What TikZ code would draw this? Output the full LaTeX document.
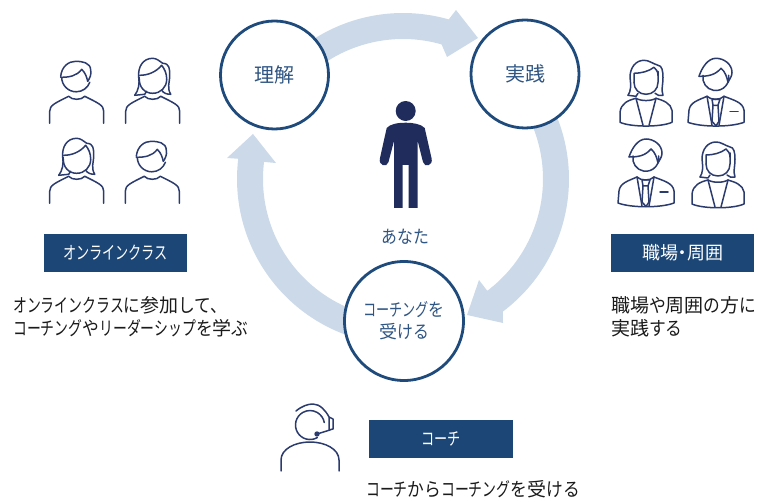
\documentclass[tikz,border=0pt]{standalone}
\usepackage{fontspec}
\setmainfont{Noto Sans CJK JP}
\newfontfamily\narrowkana[FakeStretch=0.73]{Noto Sans CJK JP}
\newfontfamily\narrowhira[FakeStretch=0.88]{Noto Sans CJK JP}
\newcommand{\K}[1]{{\narrowkana #1}}
\newcommand{\Hr}[1]{{\narrowhira #1}}
\definecolor{boxblue}{HTML}{1C4676}
\definecolor{ringblue}{HTML}{1F4A7C}
\definecolor{bandblue}{HTML}{CBD9E9}
\definecolor{iconblue}{HTML}{2B3B6E}
\definecolor{navy}{HTML}{1F2C5C}
\definecolor{labelblue}{HTML}{2F5583}
\definecolor{bodytext}{HTML}{1A1A1A}
\newcommand{\bandarrow}[5]{% start angle, end angle, head points
  \fill[bandblue]
    plot[domain=#1:#2,samples=50] ({403+166*cos(\x)},{-179+166*sin(\x)})
    -- (#3) -- (#4) -- (#5)
    -- plot[domain=#2:#1,samples=50] ({403+140*cos(\x)},{-179+140*sin(\x)}) -- cycle;}
\tikzset{
  x=1pt,y=1pt,
  iconline/.style={draw=iconblue,line width=1.5pt,line join=round,line cap=round,fill=none},
  stepcircle/.style={circle,draw=ringblue,line width=2.8pt,fill=white,text=labelblue,align=center,inner sep=0pt},
  labelbox/.style={rectangle,fill=boxblue,text=white,minimum height=38pt,inner sep=0pt,font=\fontsize{18}{22}\selectfont},
  bodylabel/.style={anchor=west,text=bodytext,align=left,inner sep=0pt,font=\fontsize{19}{23}\selectfont},
  casualbody/.pic={\draw[iconline] (-27,0) -- (-27,12) .. controls (-27,18) and (-22,20) .. (-8,27) .. controls (-5,23) and (5,23) .. (8,27) .. controls (22,20) and (27,18) .. (27,12) -- (27,0);},
  manhair/.pic={\draw[iconline] (-16,47) .. controls (-15,57) and (-8,62) .. (-1,62) .. controls (5,62) and (14,61) .. (14,53) .. controls (15,49) and (13,45) .. (11,42);
     \draw[iconline] (-16,46) .. controls (-8,46) and (0,47) .. (5,54) .. controls (9,50) and (10,46) .. (11,42);},
  casualman/.pic={\pic{casualbody}; \pic{manhair};
     \draw[iconline] (-15,46) arc[start angle=180,end angle=340,radius=14.5];},
  womanhair/.pic={\draw[iconline] (-18,28) .. controls (-14,33) and (-13,40) .. (-14,46) .. controls (-15,56) and (-10,65) .. (0,65) .. controls (4,65) and (7,62) .. (10,60) .. controls (17,60) and (17,54) .. (17,48) .. controls (17,40) and (14,36) .. (18,29) .. controls (14,29) and (11,30) .. (9,33);
     \draw[iconline] (-18,28) -- (-8,29) -- (-6,32);
     \draw[iconline] (-13,48) .. controls (-5,48) and (3,51) .. (9,58) .. controls (12,54) and (14,50) .. (14,44);},
  casualwoman/.pic={\pic{casualbody}; \pic{womanhair};
     \draw[iconline] (-13.5,46) .. controls (-14,36) and (-8,30) .. (0,30) .. controls (8,30) and (14,36) .. (14,44);},
  suitbody/.pic={\draw[iconline] (-9,31) .. controls (-18,27) and (-26,25) .. (-27,17) -- (-28,5) .. controls (-15,0) and (15,0) .. (28,5) -- (28,17) .. controls (27,25) and (18,27) .. (8,31);
     \draw[iconline] (-9,31) -- (-4,2);
     \draw[iconline] (8,31) -- (3,2);
     \draw[iconline] (-9,31) .. controls (-5,27) and (4,27) .. (8,31);},
  suitman/.pic={\pic{suitbody};
     \draw[iconline] (-4,28) -- (4,28) -- (2,22) -- (-3,22) -- cycle;
     \draw[iconline] (-3,22) -- (-4,6) -- (0,1.5) -- (3,6) -- (2,22);
     \draw[iconline] (14,16) -- (22,16);
     \draw[iconline] (-13,52) arc[start angle=170,end angle=370,radius=13];
     \draw[iconline] (-17,51) .. controls (-14,60) and (-8,69) .. (0,69) .. controls (8,69) and (16,63) .. (16,55) .. controls (16,51) and (14,49) .. (12,45);
     \draw[iconline] (-17,51) .. controls (-8,51) and (-1,52) .. (5,59) .. controls (9,56) and (11,50) .. (12,45);},
  suitwoman/.pic={\draw[iconline] (-10,29) .. controls (-18,27) and (-25,24) .. (-26,15) -- (-26,5) .. controls (-15,0) and (15,0) .. (26,5) -- (26,17) .. controls (25,24) and (17,27) .. (10,29);
     \draw[iconline] (-10,29) -- (-3,2);
     \draw[iconline] (10,29) -- (3,2);
     \draw[iconline] (-10,29) .. controls (-5,26) and (5,26) .. (10,29);
     \draw[iconline] (-12,45) .. controls (-12,38) and (-7,33) .. (0,33) .. controls (7,33) and (12,38) .. (12,45) -- (12,56);
     \draw[iconline] (-12,45) -- (-12,54) .. controls (-5,54) and (3,56) .. (8,60) .. controls (10,58) and (12,56) .. (12,52);
     \draw[iconline] (-18,32) .. controls (-15,36) and (-15,42) .. (-16,50) .. controls (-16,60) and (-10,67) .. (-2,67) .. controls (3,67) and (6,64) .. (12,62) .. controls (16,62) and (17,56) .. (17,50) .. controls (17,42) and (15,38) .. (17,32) .. controls (14,31) and (11,32) .. (9,34);
     \draw[iconline] (-18,32) -- (-10,31) -- (-8,34);},
  coachicon/.pic={\draw[iconline] (-29,0) -- (-29,11) .. controls (-29,22) and (-15,29) .. (0,29) .. controls (15,29) and (29,22) .. (29,11) -- (29,0);
     \draw[iconline] (7.25,33.4) arc[start angle=-60,end angle=-350,radius=14.5];
     \draw[iconline] (-14,60) .. controls (-8,65) and (-2,67) .. (3,67) .. controls (10,67) and (16,60) .. (19,54);
     \draw[iconline] (19,41) -- (23,42) -- (23,52) -- (19,54) -- cycle;
     \draw[iconline] (7,37) -- (20,41);
     \fill[iconblue] (7,37) circle[radius=2.7];}
}
\begin{document}
\begin{tikzpicture}
\useasboundingbox (0,0) rectangle (758,-502);
% cycle bands
\bandarrow{143}{74}{456,-10}{478,-38}{447,-57}
\bandarrow{30}{-53}{503,-323}{467,-315}{479,-280}
\bandarrow{-100}{-187}{227,-158}{253,-134}{276,-163}
% step circles
\node[stepcircle,minimum size=108pt,font=\fontsize{20}{24}\selectfont] (understand) at (274.5,-75) {理解};
\node[stepcircle,minimum size=108pt,font=\fontsize{20}{24}\selectfont] (practice) at (525,-74) {実践};
\node[stepcircle,minimum size=119pt,font=\fontsize{18}{22}\selectfont] (coaching) at (404,-321) {\K{コーチング}\Hr{を}\\受\Hr{ける}};
% central person
\fill[navy] (405.7,-111) circle[radius=10];
\fill[navy] (405.7,-122.7) .. controls (398,-122.7) and (390,-124) .. (386.7,-128)
  -- (380,-158) .. controls (378,-166) and (387,-168) .. (388.5,-162) -- (394,-141) -- (394,-208) -- (402.7,-208) -- (402.7,-165) -- (408.7,-165) -- (408.7,-208) -- (417.7,-208) -- (417.7,-141) -- (423,-162) .. controls (424.5,-168) and (433.5,-166) .. (431.5,-158) -- (424.7,-128) .. controls (421,-124) and (413,-122.7) .. (405.7,-122.7) -- cycle;
\node[text=labelblue,inner sep=0pt,font=\fontsize{18}{22}\selectfont] (you) at (405.5,-237) {\Hr{あなた}};
% left icons
\pic at (76.7,-123.3) {casualman};
\pic at (152.7,-123.3) {casualwoman};
\pic at (76.7,-203.3) {casualwoman};
\pic at (152.3,-203.3) {casualman};
% right icons
\pic at (646,-127.3) {suitwoman};
\pic at (716,-127.3) {suitman};
\pic at (646,-208) {suitman};
\pic at (718,-209) {suitwoman};
% coach icon
\pic at (310,-471) {coachicon};
% label boxes
\node[labelbox,minimum width=143pt] (onlinebox) at (115.5,-253) {\K{オンラインクラス}};
\node[labelbox,minimum width=143pt] (workbox) at (682.5,-253) {職場\kern-4.5pt ・\kern-4.5pt 周囲};
\node[labelbox,minimum width=144pt] (coachbox) at (441,-439) {\K{コーチ}};
% body texts
\node[bodylabel] (onlinetext) at (13,-316.5) {\K{オンラインクラス}\Hr{に}参加\Hr{して、}\\\K{コーチング}\Hr{や}\K{リーダーシップ}\Hr{を}学\Hr{ぶ}};
\node[bodylabel] (worktext) at (611,-316.5) {職場\Hr{や}周囲\Hr{の}方\Hr{に}\\実践\Hr{する}};
\node[bodylabel] (coachtext) at (366,-489) {\K{コーチ}\Hr{から}\K{コーチング}\Hr{を}受\Hr{ける}};
\end{tikzpicture}
\end{document}
